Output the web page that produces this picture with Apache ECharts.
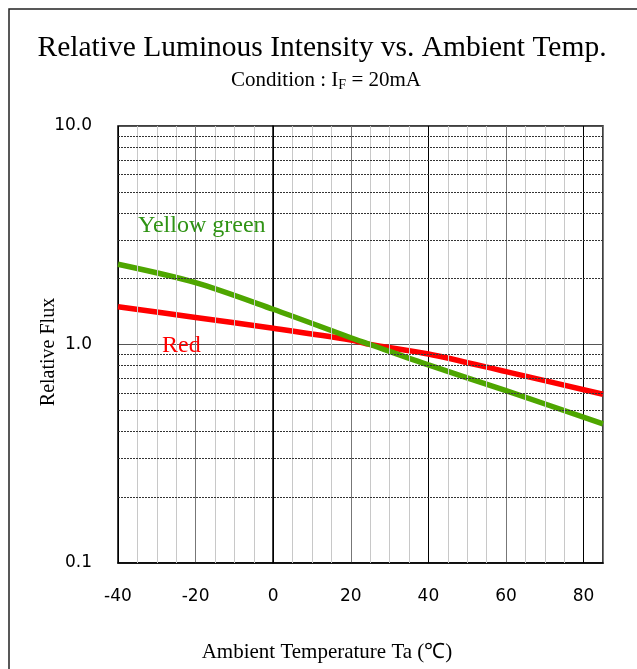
<!DOCTYPE html>
<html>
<head>
<meta charset="utf-8">
<script src="https://cdn.jsdelivr.net/npm/echarts@6/dist/echarts.min.js"></script>
<style>html,body{margin:0;padding:0;background:#fff}#c{width:637px;height:669px}</style>
</head>
<body>
<div id="c"></div>
<script>
// Data
const temps = [-40, -20, 0, 20, 25, 40, 60, 85];
const yellowGreen = [2.33, 1.92, 1.45, 1.074, 1.0, 0.806, 0.615, 0.433];
const red = [1.49, 1.33, 1.186, 1.048, 1.0, 0.905, 0.751, 0.592];
const xMinorGrid = [-35, -30, -25, -15, -10, -5, 5, 10, 15, 25, 30, 35, 45, 50, 55, 65, 70, 75];
const yMinorGrid = [0.2, 0.3, 0.4, 0.5, 0.6, 0.7, 0.8, 0.9, 2, 3, 4, 5, 6, 7, 8, 9];

const serif = '"Liberation Serif","Times New Roman",serif';
const sans = '"DejaVu Sans",Verdana,sans-serif';

const chart = echarts.init(document.getElementById('c'), null, {renderer: 'canvas'});
chart.setOption({
  backgroundColor: '#fff',
  animation: false,
  graphic: [
    {type: 'rect', shape: {x: 9, y: 9, width: 700, height: 700}, style: {fill: 'none', stroke: '#222', lineWidth: 1.5}, z: 100},
    {type: 'text', x: 322, y: 48, style: {text: 'Relative Luminous Intensity vs. Ambient Temp.', fill: '#000', font: '29.5px ' + serif, textAlign: 'center', textVerticalAlign: 'middle'}, z: 100},
    {type: 'text', x: 326, y: 80, style: {
      text: '{n|Condition : I}{s|F}{n| = 20mA}', textAlign: 'center', textVerticalAlign: 'middle',
      rich: {
        n: {fontFamily: serif, fontSize: 21, fill: '#000', color: '#000'},
        s: {fontFamily: serif, fontSize: 14, fill: '#000', color: '#000', verticalAlign: 'bottom', padding: [10, 0, 0, 0]}
      }
    }, z: 100},
    {type: 'text', x: 49, y: 352, rotation: Math.PI / 2, style: {text: 'Relative Flux', fill: '#000', font: '20px ' + serif, textAlign: 'center', textVerticalAlign: 'middle'}, z: 100},
    {type: 'text', x: 327, y: 652, style: {text: 'Ambient Temperature Ta (℃)', fill: '#000', font: '21px ' + serif, textAlign: 'center', textVerticalAlign: 'middle'}, z: 100},
    {type: 'text', left: 138, top: 214, style: {text: 'Yellow green', fill: '#2f9314', font: '24px ' + serif}, z: 100},
    {type: 'text', left: 162, top: 334, style: {text: 'Red', fill: '#ff0000', font: '24px ' + serif}, z: 100}
  ],
  grid: {left: 118, right: 34, top: 126, bottom: 106, show: true, borderColor: '#000', borderWidth: 1.5, backgroundColor: 'transparent'},
  xAxis: {
    type: 'value', min: -40, max: 85, interval: 20,
    axisLine: {show: true, lineStyle: {color: '#000', width: 1.5}},
    axisTick: {show: false},
    axisLabel: {showMaxLabel: false, fontFamily: sans, fontSize: 17, color: '#000', margin: 25},
    splitLine: {show: true, lineStyle: {color: ['#000', '#777'], width: 1}}
  },
  yAxis: {
    type: 'log', logBase: 10, min: 0.1, max: 10,
    axisLine: {show: true, lineStyle: {color: '#000', width: 1.5}},
    axisTick: {show: false},
    axisLabel: {fontFamily: sans, fontSize: 17, color: '#000', margin: 26, formatter: v => Number(v).toFixed(1)},
    splitLine: {show: true, lineStyle: {color: '#555', width: 1}}
  },
  series: [
    {
      type: 'line', data: [], silent: true, z: 1,
      markLine: {
        silent: true, symbol: 'none', label: {show: false}, animation: false,
        data: xMinorGrid.map(v => ({xAxis: v, lineStyle: {color: '#c8c8c8', width: 1, type: 'solid'}}))
          .concat(yMinorGrid.map(v => ({yAxis: v, lineStyle: {color: '#333', width: 1, type: [2, 1]}})))
      }
    },
    {
      name: 'Red', type: 'line', z: 3, smooth: 0.3, showSymbol: false,
      data: temps.map((t, i) => [t, red[i]]),
      lineStyle: {color: '#ff0000', width: 5.5}
    },
    {
      name: 'Yellow green', type: 'line', z: 4, smooth: 0.3, showSymbol: false,
      data: temps.map((t, i) => [t, yellowGreen[i]]),
      lineStyle: {color: '#4ea600', width: 5.5}
    }
  ]
});
</script>
</body>
</html>
